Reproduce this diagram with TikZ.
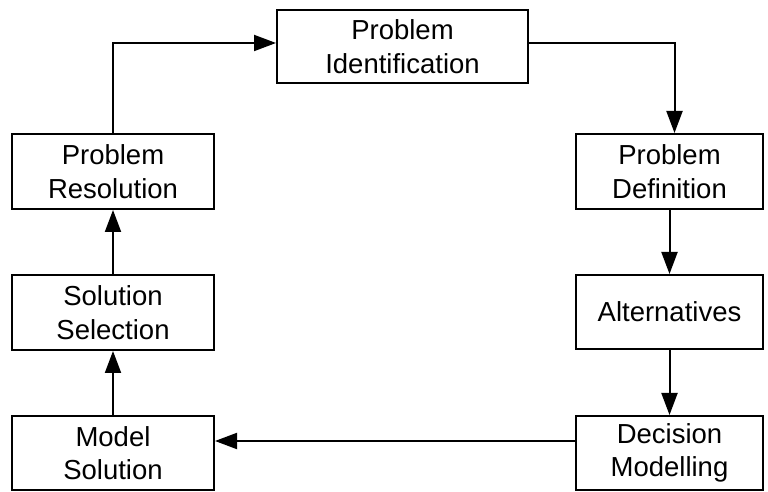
\documentclass[tikz,border=0pt]{standalone}
\usepackage{fontspec}
\setmainfont{Liberation Sans}
\usetikzlibrary{arrows.meta}
\begin{document}
\begin{tikzpicture}[x=1pt,y=1pt,
  box/.style={draw,line width=2pt,inner sep=0pt,align=center,
    font=\fontsize{27.5}{33.5}\selectfont},
  arr/.style={line width=2pt,-{Triangle[length=22pt,width=16pt]}}]
\useasboundingbox (0,0) rectangle (768,492);
\node[box,minimum width=251pt,minimum height=73pt] (pi) at (402.5,445.5) {Problem\\Identification};
\node[box,minimum width=187pt,minimum height=75pt] (pd) at (669.5,320.5) {Problem\\Definition};
\node[box,minimum width=187pt,minimum height=74pt] (alt) at (669.5,180) {Alternatives};
\node[box,minimum width=187pt,minimum height=74pt] (dm) at (669.5,39) {Decision\\Modelling};
\node[box,minimum width=202pt,minimum height=74pt] (ms) at (113,39) {Model\\Solution};
\node[box,minimum width=202pt,minimum height=75pt] (ss) at (113,179.5) {Solution\\Selection};
\node[box,minimum width=202pt,minimum height=75pt] (pr) at (113,320.5) {Problem\\Resolution};
\draw[arr] (pr.north) |- ([yshift=3.5pt]pi.west);
\draw[arr] ([yshift=3.5pt]pi.east) -| ([xshift=5pt]pd.north);
\draw[arr] (pd.south) -- (alt.north);
\draw[arr] (alt.south) -- (dm.north);
\draw[arr] ([yshift=12pt]dm.west) -- ([yshift=12pt]ms.east);
\draw[arr] (ms.north) -- (ss.south);
\draw[arr] (ss.north) -- (pr.south);
\end{tikzpicture}
\end{document}
